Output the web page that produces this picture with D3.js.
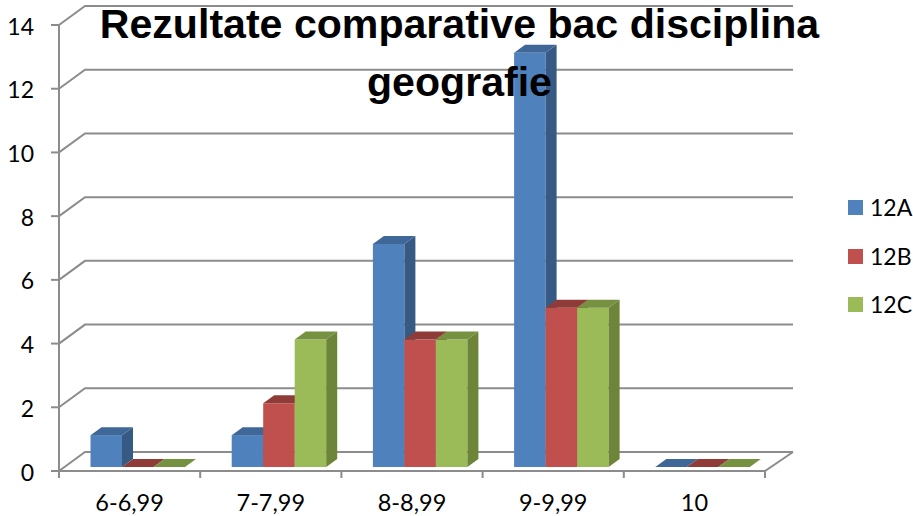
<!DOCTYPE html>
<html><head><meta charset="utf-8">
<script src="https://cdn.jsdelivr.net/npm/d3@7"></script>
<style>html,body{margin:0;padding:0;background:#fff}svg{display:block}text{font-family:Lato,"Open Sans",sans-serif;fill:#000}</style>
</head><body><svg id="c" width="913" height="516"></svg>
<script>
const categories = ["6-6,99","7-7,99","8-8,99","9-9,99","10"];
const seriesNames = ["12A","12B","12C"];
const values12A = [1,1,7,13,0];
const values12B = [0,2,4,5,0];
const values12C = [0,4,4,5,0];
const yTicks = [0,2,4,6,8,10,12,14];
const titleLines = ["Rezultate comparative bac disciplina","geografie"];
const fronts = ["#4F81BD","#C0504D","#9BBB59"];
const tops = ["#3F6797","#8F3C39","#769140"];
const sides = ["#375A84","#853835","#6C8539"];

const seriesValues = [values12A,values12B,values12C];
const svg = d3.select("#c");
const x = d3.scaleBand().domain(categories).range([59,765]);
const y = d3.scaleLinear().domain([0,14]).range([471,25]);
const inner = d3.scaleBand().domain(seriesNames).range([31.5,126]);
const wallDx=26, wallDy=-19, barDx=11, barDy=-8, floorLift=4;
const gridC="#8c8c8c";
const gl=svg.append("g").attr("fill","none").attr("stroke",gridC).attr("stroke-width",2);
yTicks.forEach(t=>{
  gl.append("path").attr("d",`M${x.range()[0]},${y(t)}L${x.range()[0]+wallDx},${y(t)+wallDy}H${x.range()[1]+wallDx+2}`);
  gl.append("line").attr("x1",51).attr("x2",59).attr("y1",y(t)).attr("y2",y(t));
});
gl.append("line").attr("x1",59).attr("x2",59).attr("y1",y(14)).attr("y2",y(0));
gl.append("path").attr("d",`M59,${y(0)}H${x.range()[1]}L${x.range()[1]+wallDx+2},${y(0)+wallDy}`);
categories.concat(["end"]).forEach((c,i)=>{
  const px = i<categories.length? x(c): x.range()[1];
  gl.append("line").attr("x1",px).attr("x2",px).attr("y1",y(0)).attr("y2",y(0)+7);
});
svg.append("g").selectAll("text").data(yTicks).join("text")
  .attr("x",34).attr("y",d=>y(d)+9.5).attr("text-anchor","end").attr("font-size",23).text(d=>d);
svg.append("g").selectAll("text").data(categories).join("text")
  .attr("x",d=>x(d)+x.bandwidth()/2).attr("y",511).attr("text-anchor","middle").attr("font-size",23.5).text(d=>d);
const bars=svg.append("g");
categories.forEach((c,i)=>{
  seriesNames.forEach((s,j)=>{
    const v=seriesValues[j][i];
    const x0=x(c)+inner(s), w=inner.bandwidth(), b=y(0)-floorLift, t=y(v)-floorLift;
    const g=bars.append("g");
    if(v>0){
      g.append("rect").attr("x",x0).attr("y",t).attr("width",w).attr("height",b-t).attr("fill",fronts[j]);
      g.append("path").attr("d",`M${x0+w},${t}l${barDx},${barDy}V${b+barDy}L${x0+w},${b}Z`).attr("fill",sides[j]);
    }
    g.append("path").attr("d",`M${x0},${t}h${w}l${barDx},${barDy}h${-w}Z`).attr("fill",tops[j]);
  });
});
const tg=svg.append("g");
titleLines.forEach((l,i)=>tg.append("text").attr("x",459.5).attr("y",[37.5,96][i]).attr("text-anchor","middle")
  .style("font-family","'Liberation Sans',sans-serif")
  .attr("font-size",41.1).attr("font-weight",700).text(l));
const lg=svg.append("g");
seriesNames.forEach((s,i)=>{
  const yy=[200,249,297][i];
  lg.append("rect").attr("x",848).attr("y",yy).attr("width",15).attr("height",15).attr("fill",fronts[i]);
  lg.append("text").attr("x",870).attr("y",yy+16).attr("font-size",23).text(s);
});
</script></body></html>
